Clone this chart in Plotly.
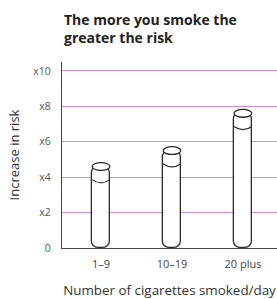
import plotly.graph_objects as go

# ---- data ----
categories = ["1\u20139", "10\u201319", "20 plus"]
risk_values = [4.6, 5.5, 7.6]
y_tick_values = [0, 2, 4, 6, 8, 10]
y_tick_labels = ["0", "x2", "x4", "x6", "x8", "x10"]

title_text = "The more you smoke the<br>greater the risk"
x_title = "Number of cigarettes smoked/day"
y_title = "Increase in risk"

# ---- style ----
FONT = "Open Sans"
INK = "#2a2a2a"
GRID = "#d78bcf"
BAR_W = 0.25
CAP_H = 0.22      # half height of top ellipse (data units)
BAND_OFF = 0.74   # band offset below top
BAND_D = 0.18     # band curvature depth

xpos = list(range(len(categories)))

fig = go.Figure()
# cylinder bodies: drawn downward from the top so the rounded end is at the bottom
fig.add_trace(go.Bar(
    x=xpos,
    base=risk_values,
    y=[-v for v in risk_values],
    width=BAR_W,
    marker=dict(color="white", line=dict(color=INK, width=1.3), cornerradius="38%"),
    hoverinfo="skip",
    showlegend=False,
))

shapes = []
for xi, v in zip(xpos, risk_values):
    x0, x1 = xi - BAR_W / 2, xi + BAR_W / 2
    yb = v - BAND_OFF
    shapes.append(dict(
        type="path", xref="x", yref="y",
        path=f"M {x0},{yb} Q {xi},{yb - 2 * BAND_D} {x1},{yb}",
        line=dict(color=INK, width=1.2), layer="above",
    ))
    shapes.append(dict(
        type="circle", xref="x", yref="y",
        x0=x0, x1=x1, y0=v - CAP_H, y1=v + CAP_H,
        fillcolor="white", line=dict(color=INK, width=1.3), layer="above",
    ))

PLOT_H = 299 - 62 - 51

fig.update_layout(
    width=277, height=299,
    margin=dict(l=62, r=0, t=62, b=51),
    paper_bgcolor="white", plot_bgcolor="white",
    font=dict(family=FONT, color="#333333"),
    shapes=shapes,
    bargap=0,
    annotations=[dict(
        text=f"<b>{title_text}</b>",
        xref="paper", yref="paper",
        x=0, y=1 + (62 - 8) / PLOT_H,
        xanchor="left", yanchor="top", align="left",
        showarrow=False,
        font=dict(family=FONT, size=14, color="#222222"),
    )],
)
fig.update_xaxes(
    range=[-0.55, 2.48],
    tickvals=xpos, ticktext=categories,
    showgrid=False, zeroline=False, automargin=False,
    showline=True, linecolor="#444444", linewidth=1.3,
    ticks="", ticklabelstandoff=6, tickfont=dict(size=11, color="#444444"),
    title=dict(text=x_title, font=dict(size=13.4, color="#333333"), standoff=18),
)
fig.update_yaxes(
    range=[0, 10.5],
    tickvals=y_tick_values, ticktext=y_tick_labels,
    showgrid=True, gridcolor=GRID, gridwidth=1.4,
    zeroline=False, automargin=False,
    showline=True, linecolor="#444444", linewidth=1.3,
    ticks="", ticklabelstandoff=8,
    tickfont=dict(size=10.5, color="#555555"),
    title=dict(text=y_title, font=dict(size=13, color="#333333"), standoff=10),
)

fig.write_html(
    "out.html",
    config={"displayModeBar": False},
    post_script="document.body.style.margin='0';document.body.style.overflow='hidden';",
)
